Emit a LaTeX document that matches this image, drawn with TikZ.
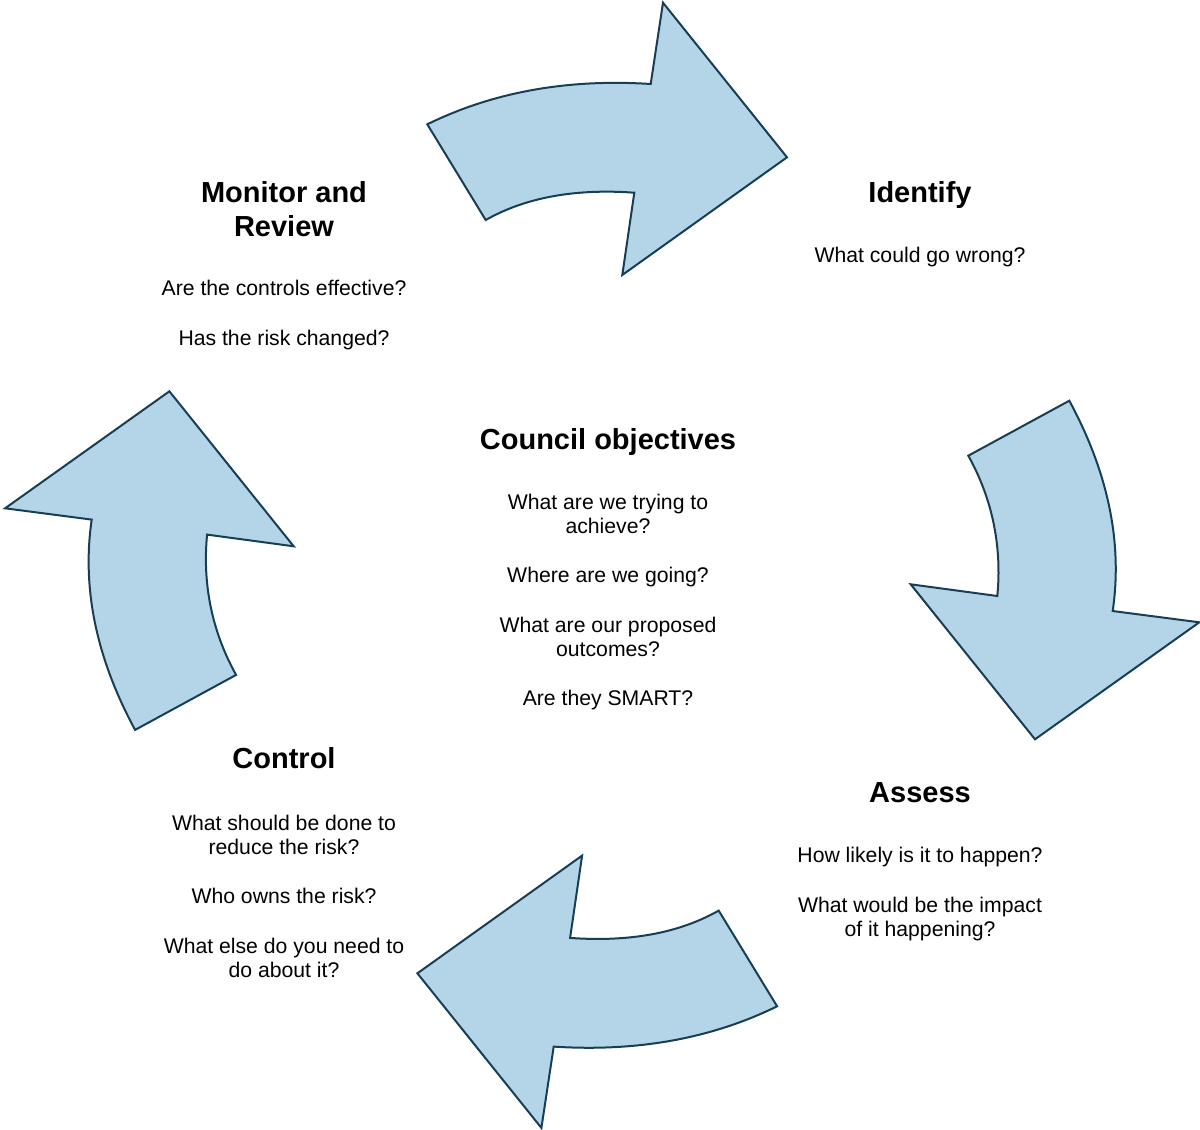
\documentclass[tikz,border=0pt]{standalone}
\usepackage{fontspec}
\setmainfont{Liberation Sans}
\usepackage{xcolor}
\definecolor{arrowfill}{RGB}{180,213,231}
\definecolor{arrowline}{RGB}{24,62,86}
\tikzset{
  bluearrow/.style={draw=arrowline, fill=arrowfill, line width=1pt},
  heading/.style={font=\fontsize{14.5}{17}\selectfont\bfseries, align=center},
  question/.style={font=\fontsize{10.6}{12}\selectfont, align=center}
}
\begin{document}
\begin{tikzpicture}[x=0.5pt,y=0.5pt]
\tikzstyle{every node}+=[inner sep=0pt]
\useasboundingbox (0,0) rectangle (1200,-1130);
% arrows
\draw [bluearrow] (427.3,-124.3) -- (485.7,-220) .. controls (525.4,-197.5) and (575,-188.4) .. (634.3,-192.7) -- (622.3,-275) -- (787,-157.3) -- (663,-2.7) -- (650.7,-84) .. controls (567.6,-78.6) and (493.1,-92) .. (427.3,-124.3) -- cycle;
\draw [bluearrow] (968.3,-455.7) -- (1069.3,-400.7) .. controls (1108.2,-472.6) and (1122.7,-542.7) .. (1112.7,-611) -- (1199.3,-622.3) -- (1035,-739.3) -- (910.7,-584.3) -- (997.3,-596) .. controls (1002,-548) and (993,-500) .. (968.3,-455.7) -- cycle;
\draw [bluearrow] (777.1,-1006.3) -- (718.7,-910.6) .. controls (679,-933.1) and (629.4,-942.2) .. (570.1,-937.9) -- (582.1,-855.6) -- (417.4,-973.3) -- (541.4,-1127.9) -- (553.7,-1046.6) .. controls (636.8,-1052) and (711.3,-1038.6) .. (777.1,-1006.3) -- cycle;
\draw [bluearrow] (236.1,-674.9) -- (135.1,-729.9) .. controls (96.2,-658) and (81.7,-587.9) .. (91.7,-519.6) -- (5.1,-508.3) -- (169.4,-391.3) -- (293.7,-546.3) -- (207.1,-534.6) .. controls (202.4,-582.6) and (211.4,-630.6) .. (236.1,-674.9) -- cycle;
% texts
\node [heading] (monitor) at (284,-209) {Monitor and\\Review};
\node [question] (monitorq) at (284,-315) {Are the controls effective?\\[12.75pt]Has the risk changed?};
\node [heading] (identify) at (920,-195) {Identify};
\node [question] (identifyq) at (920,-257) {What could go wrong?};
\node [heading] (council) at (608,-442) {Council objectives};
\node [question] (councilq) at (608,-602) {What are we trying to\\achieve?\\[12.75pt]Where are we going?\\[12.75pt]What are our proposed\\outcomes?\\[12.75pt]Are they SMART?};
\node [heading] (control) at (284,-758) {Control};
\node [question] (controlq) at (284,-896) {What should be done to\\reduce the risk?\\[12.75pt]Who owns the risk?\\[12.75pt]What else do you need to\\do about it?};
\node [heading] (assess) at (920,-793) {Assess};
\node [question] (assessq) at (920,-894) {How likely is it to happen?\\[12.75pt]What would be the impact\\of it happening?};
\end{tikzpicture}
\end{document}
